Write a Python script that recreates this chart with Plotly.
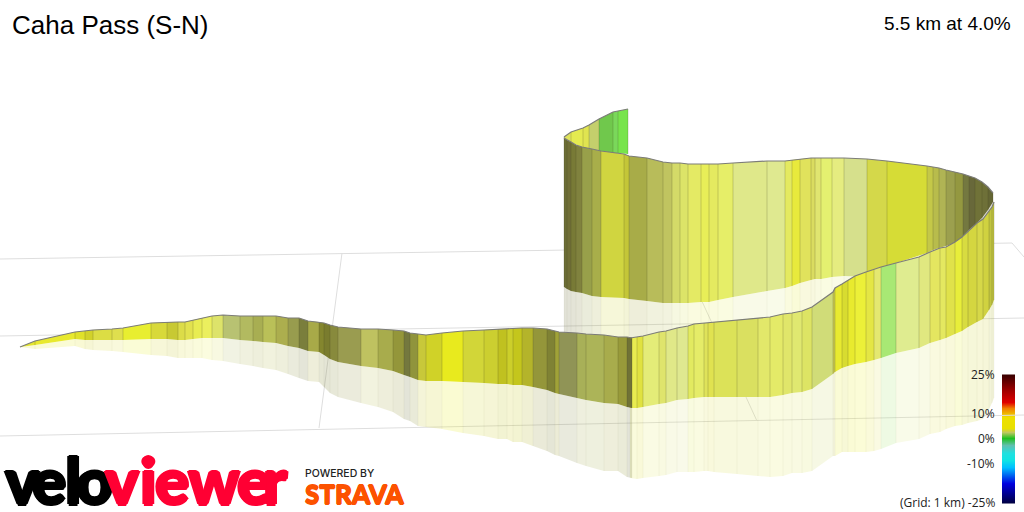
import plotly.graph_objects as go
import numpy as np

# Grid lines of the projected base plane (image coordinates)
grid_x = [0, 1012, 1024, None, 0, 1024, None, 0, 1024, None, 342, 319, None, 677, 757]
grid_y = [259, 243, 257, None, 336, 318, None, 436, 415, None, 253, 428, None, 247, 421]

# Section A: the long low stretch in front
a_x = [20,35,75,85,93,112,123,151,167,178,185,193,202,212,223,240,253,263,276,288,299,308,319,324,330,338,361,378,393,404,410,418,426,442,463,484,498,507,513,522,533,547,555,559,577,586,604,618,627,632]
a_top = [347,341,332,331,330,329,328,323,322,322,322,320,318,316,315,316,316,316,316,318,318,321,322,323,325,327,329,329,330,331,333,334,335,333,331,330,329,329,328,328,328,329,331,332,333,334,335,337,337,338]
a_bot = [347,345,339,340,340,340,340,339,339,340,340,339,338,338,338,340,341,342,343,346,348,351,352,355,359,362,366,368,371,375,377,380,381,381,382,383,384,384,385,385,387,390,393,394,398,400,403,404,407,408]
a_col = ["e4e630","e8e92e","e0e12a","d2d22a","dcdd44","dfdf4e","e8ee30","d8d93a","c8c933","dcdc48","e2e24e","e8ec52","ebef5e","dde36a","b8c272","b2ba60","a8ae52","bac058","acae4e","989c4e","7a7e3c","a8aa48","84862e","7a7c2e","888a3c","9a9c50","bfc260","a8ac4c","94963a","74783e","90943c","c8c83a","d0d228","e8ea1e","d2d638","cccf30","c0c120","cccf2a","c4c61c","b4b42a","94963a","7f8234","a0a238","909456","a8b058","acb458","a8ac4c","989a3a","707236"]

# Section B: the front of the bend, rising to the right
b_x = [630,637,643,659,666,677,688,694,704,708,714,737,758,770,783,792,802,812,833,835,842,848,855,866,874,881,896,919,930,940,946,955,962,968,977,983,989,992,994]
b_top = [338,337,336,332,331,328,326,324,323,323,322,320,318,317,314,313,311,307,292,288,284,280,276,272,269,267,263,257,252,248,247,242,237,231,223,219,211,207,202]
b_bot = [408,408,407,404,403,400,399,398,397,397,397,397,397,397,395,393,392,389,374,372,368,366,364,362,360,358,353,348,343,340,338,334,331,327,322,319,310,305,300]
b_col = ["e8ec50","e0e240","e4ec78","dfe46c","e0e888","dfe890","e2ea60","e5ec68","dfe35a","e0e250","dce258","dae060","e2e86a","e4ea68","e0e66a","e0e870","dde464","d0dc78","c8c850","e8ea30","d8dc30","e8ea2e","ecf038","e4e644","e4e870","a8e874","dfec90","e0e880","e4e660","e4e860","e0e24a","e8ee3a","d8dc40","d4d640","d6d848","d0d240","c0c440","c0c440"]

# Section C: the high back wall
c_x = [564,567,571,576,582,592,601,624,629,647,663,672,680,688,701,709,718,733,767,785,792,800,811,815,821,832,844,867,887,927,933,939,946,955,963,969,975,982,988,993]
c_top = [138,140,142,145,147,149,151,154,156,158,162,163,163,164,164,164,164,163,161,161,160,159,158,158,158,158,158,159,161,166,167,168,170,172,174,176,178,182,187,193]
c_bot = [287,289,291,292,293,296,297,298,299,301,303,303,303,303,302,302,300,297,291,288,286,283,280,279,279,277,276,277,266,253,250,248,246,243,237,230,225,218,210,202]
c_col = ["6c6e36","706f36","787a36","80823e","98a04a","a8ae4a","d0d540","c4c638","a8ac48","b8bc5a","c0c460","d4da68","dce468","e4ea64","e8ee58","e4ea60","e6ee68","dfe88a","dfe990","e4ea60","e8ea3c","e0e25c","dadc60","e0e570","e4f070","e5ec80","d6e08c","d4d84a","d6dc36","c4c848","b8bc4c","b0b454","9ca04e","949840","747840","68683a","707238","6e7038","646634"]

# Section D: the last stretch, behind the back wall
d_x = [564,571,583,589,599,613,618,628]
d_top = [137,132,128,125,119,112,111,109]
d_bot = [138,142,148,149,151,153,153,154]
d_col = ["e0e45c","e4ea50","e0e450","c4cf6c","70c84c","7ad85a","78e44c"]

# Gradient legend
legend_pct = [25, 10, 0, -10, -25]
legend_row = [375, 414, 439, 464, 503]
legend_lab = ["25%", "10%", "0%", "-10%", "(Grid: 1 km) -25%"]
ramp_pct = [-25, -17.4, -14.3, -11.2, -8.4, -5.6, -2.4, 0.4, 2.8, 4.4, 8.8, 12.3, 14.6, 19.2, 25]
ramp_col = ["#000040","#0000e0","#0060f0","#00c0ff","#10e4e4","#20e0e0","#60c0b0","#20c020","#c0c860","#e8e000","#eee000","#f08000","#e00000","#a00000","#3c0000"]

# Logo letters
velo_letters = list("velo")
velo_at = [22, 49, 73, 94]
viewer_letters = list("viewer")
viewer_at = [122, 148, 172, 214, 254, 275]


def rgba(h, a):
    return f"rgba({int(h[:2],16)},{int(h[2:4],16)},{int(h[4:],16)},{a})"


fig = go.Figure()
fig.add_trace(go.Scatter(x=grid_x, y=grid_y, mode="lines", line=dict(color="#dedede", width=1),
                         hoverinfo="skip", showlegend=False))


def columns(xs, tops, bots, cols, reflect=None):
    for i, c in enumerate(cols):
        if reflect is not None:
            u0, u1 = bots[i], bots[i + 1]
            v0, v1 = reflect[i], reflect[i + 1]
            fill = rgba(c, 0.2)
        else:
            u0, u1 = tops[i], tops[i + 1]
            v0, v1 = bots[i], bots[i + 1]
            fill = "#" + c
        fig.add_trace(go.Scatter(x=[xs[i], xs[i + 1], xs[i + 1], xs[i], xs[i]],
                                 y=[u0, u1, v1, v0, u0], mode="lines", fill="toself",
                                 fillcolor=fill, line=dict(width=0), hoverinfo="skip",
                                 showlegend=False))
    lx, ly = [], []
    for i, x in enumerate(xs):
        t = reflect[i] if reflect is not None else tops[i]
        lx += [x, x, None]
        ly += [t, bots[i], None]
    fig.add_trace(go.Scatter(x=lx, y=ly, mode="lines",
                             line=dict(color="rgba(70,70,30,%s)" % (0.05 if reflect is not None else 0.22), width=1),
                             hoverinfo="skip", showlegend=False))


def ridge(xs, tops):
    fig.add_trace(go.Scatter(x=xs, y=tops, mode="lines", line=dict(color="#7c7c78", width=1.2),
                             hoverinfo="skip", showlegend=False))


def mirror(tops, bots):
    return [2 * b - t for t, b in zip(tops, bots)]


# The back wall's reflection is only seen down to the front wall that stands before it
front_line = np.interp(c_x, a_x + b_x, a_top + b_top) + 3
c_ref = [max(b, min(m, f)) for b, m, f in zip(c_bot, mirror(c_top, c_bot), front_line)]

columns(c_x, c_top, c_bot, c_col, reflect=c_ref)
columns(b_x, b_top, b_bot, b_col, reflect=mirror(b_top, b_bot))
columns(a_x, a_top, a_bot, a_col, reflect=mirror(a_top, a_bot))
columns(d_x, d_top, d_bot, d_col)
ridge(d_x, d_top)
columns(c_x, c_top, c_bot, c_col)
ridge(c_x, c_top)
columns(b_x, b_top, b_bot, b_col)
ridge(b_x, b_top)
columns(a_x, a_top, a_bot, a_col)
ridge(a_x, a_top)

# Colour ramp
rows = list(range(legend_row[0], legend_row[-1] + 1))
zvals = np.interp(rows, legend_row, legend_pct)
lo, hi = ramp_pct[0], ramp_pct[-1]
scale = [[(p - lo) / (hi - lo), c] for p, c in zip(ramp_pct, ramp_col)]
fig.add_trace(go.Heatmap(x=[1002, 1015], y=rows, z=[[v] for v in zvals], zmin=lo, zmax=hi,
                         colorscale=scale, showscale=False, hoverinfo="skip"))

ann = []


def label(x, y, text, size, color="#000", anchor="left", family="Liberation Sans", weight=None, fat=0):
    font = dict(family=family, size=size, color=color)
    if weight:
        font["weight"] = weight
    if fat:
        font["shadow"] = ",".join(f"{a}px {b}px 0 {color}" for a, b in
                                  [(fat, 0), (-fat, 0), (0, fat), (0, -fat)])
    ann.append(dict(x=x, y=y, xref="x", yref="y", text=text, showarrow=False, xanchor=anchor,
                    yanchor="middle", font=font, borderpad=0, borderwidth=0))


label(12, 25, "Caha Pass (S-N)", 26)
label(1011, 23, "5.5 km at 4.0%", 19, anchor="right")
for r, t in zip(legend_row, legend_lab):
    label(995, r - 1, t, 12, anchor="right", family="Open Sans", color="#222")
for ch, x in zip(velo_letters, velo_at):
    label(x, 479, ch, 64, color="#000", anchor="center", family="Lato", weight=900, fat=1.5)
for ch, x in zip(viewer_letters, viewer_at):
    label(x, 479, ch, 64, color="#ff0033", anchor="center", family="Lato", weight=900, fat=1.5)
label(305, 473, "POWERED BY", 10.5, color="#222", family="Inter", weight=500)
label(305, 494, "STRAVA", 26, color="#fc5200", family="Lato", weight=900, fat=0.6)

fig.update_layout(width=1024, height=512, margin=dict(l=0, r=0, t=0, b=0),
                  paper_bgcolor="white", plot_bgcolor="white", annotations=ann,
                  xaxis=dict(range=[0, 1024], visible=False, fixedrange=True),
                  yaxis=dict(range=[512, 0], visible=False, fixedrange=True))
fig.write_html("out.html", config=dict(displayModeBar=False),
               post_script="document.body.style.margin='0';document.body.style.overflow='hidden';")
